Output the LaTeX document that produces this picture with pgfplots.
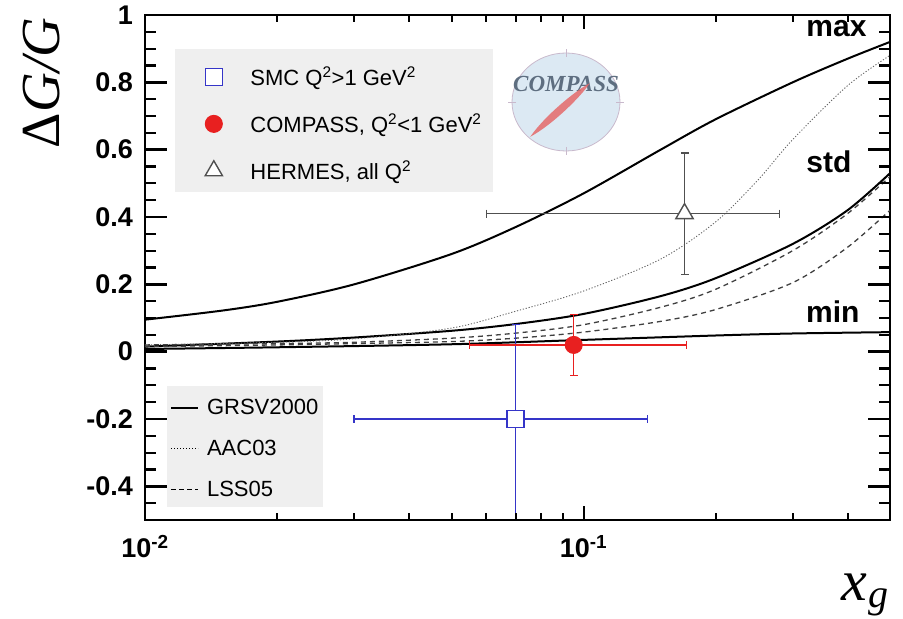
\documentclass[border=0pt]{standalone}
\usepackage{pgfplots}
\pgfplotsset{compat=1.18}
\usetikzlibrary{calc}
\usepackage{fontspec}
\setmainfont{Liberation Sans}
\newfontfamily\serif{Liberation Serif}
\definecolor{smcblue}{HTML}{3535C8}
\definecolor{cred}{HTML}{E82020}
\definecolor{hgray}{HTML}{505050}
\definecolor{leggray}{HTML}{EFEFEF}
\definecolor{logoblue}{HTML}{DCE9F3}
\definecolor{logoedge}{HTML}{C9B9CC}
\definecolor{logored}{HTML}{E56A6A}
\definecolor{logotext}{HTML}{5E6E80}
\begin{document}
\begin{tikzpicture}
% legend boxes
\fill[leggray] (30pt,328pt) rectangle (348pt,471pt);
\fill[leggray] (22pt,13pt) rectangle (178pt,134pt);
% logo
\fill[logoblue] (421pt,418pt) ellipse (54pt and 49pt);
\draw[logoedge, line width=0.8pt] (421pt,418pt) ellipse (54pt and 49pt);
\foreach \a in {0,90,180,270}{\draw[logoedge, line width=0.8pt] ($(421pt,418pt)+(\a:50pt and 45pt)$) -- ($(421pt,418pt)+(\a:58pt and 53pt)$);}
\node[logotext, font=\serif\bfseries\itshape\fontsize{23}{23}\selectfont] at (421pt,436pt) {COMPASS};
\fill[logored, opacity=0.85, rotate around={42:(415pt,410pt)}] (375pt,410pt) .. controls (400pt,416pt) and (440pt,414pt) .. (455pt,410pt) .. controls (440pt,406pt) and (400pt,404pt) .. cycle;

\begin{axis}[
  at={(0pt,0pt)}, anchor=south west,
  scale only axis, width=745pt, height=505pt,
  xmode=log, xmin=0.01, xmax=0.5, ymin=-0.5, ymax=1,
  axis line style={line width=2.2pt},
  xtick={0.01,0.1}, xticklabels={10\textsuperscript{-2},10\textsuperscript{-1}},
  ytick={-0.4,-0.2,0,0.2,0.4,0.6,0.8,1},
  yticklabels={-0.4,-0.2,0,0.2,0.4,0.6,0.8,1},
  major tick length=0pt, minor tick length=0pt,
  yticklabel style={font=\bfseries\fontsize{27}{27}\selectfont, anchor=east, inner sep=0pt, xshift=-12pt},
  xticklabel style={font=\bfseries\fontsize{27}{27}\selectfont, anchor=north, inner sep=0pt, yshift=-15pt},
  legend style={draw=none, fill=none, at={(axis description cs:0.0805,0.897)}, anchor=north west,
    font=\fontsize{22}{24}\selectfont, row sep=27pt, column sep=28pt, inner sep=0pt, nodes={inner sep=0pt}},
  legend cell align=left,
  legend image code/.code={\draw[#1] plot coordinates {(0pt,0pt)};},
]
% GRSV2000 max
\addplot[black, line width=2pt, smooth, forget plot] coordinates {
(0.01,0.095)(0.015,0.122)(0.02,0.148)(0.03,0.2)(0.05,0.29)(0.07,0.37)(0.1,0.47)(0.15,0.6)(0.2,0.69)(0.3,0.8)(0.4,0.87)(0.5,0.92)};
% GRSV2000 std
\addplot[black, line width=2pt, smooth, forget plot] coordinates {
(0.01,0.015)(0.02,0.03)(0.03,0.042)(0.05,0.062)(0.07,0.082)(0.1,0.112)(0.15,0.165)(0.2,0.218)(0.3,0.32)(0.4,0.42)(0.5,0.53)};
% GRSV2000 min
\addplot[black, line width=2pt, smooth, forget plot] coordinates {
(0.01,0.008)(0.02,0.013)(0.05,0.022)(0.1,0.035)(0.2,0.048)(0.3,0.054)(0.5,0.058)};
% AAC03
\addplot[black!60, line width=0.9pt, dash pattern=on 1.2pt off 1.8pt, smooth, forget plot] coordinates {
(0.01,0.02)(0.02,0.028)(0.03,0.038)(0.05,0.07)(0.07,0.12)(0.1,0.18)(0.15,0.275)(0.2,0.385)(0.25,0.51)(0.3,0.63)(0.4,0.79)(0.5,0.88)};
% LSS05 upper
\addplot[black!75, line width=1.3pt, dash pattern=on 5pt off 4pt, smooth, forget plot] coordinates {
(0.01,0.02)(0.02,0.024)(0.03,0.028)(0.05,0.04)(0.07,0.055)(0.1,0.08)(0.15,0.132)(0.2,0.185)(0.3,0.3)(0.4,0.41)(0.5,0.52)};
% LSS05 lower
\addplot[black!75, line width=1.3pt, dash pattern=on 5pt off 4pt, smooth, forget plot] coordinates {
(0.01,0.015)(0.02,0.02)(0.03,0.024)(0.05,0.03)(0.07,0.04)(0.1,0.058)(0.15,0.09)(0.2,0.125)(0.3,0.205)(0.4,0.31)(0.5,0.42)};
% error bars
\addplot[smcblue, line width=1.5pt, mark=|, mark size=4pt, forget plot] coordinates {(0.03,-0.2)(0.14,-0.2)};
\addplot[smcblue, line width=1.5pt, forget plot] coordinates {(0.07,-0.5)(0.07,0.08)};
\addplot[smcblue, line width=1.5pt, only marks, mark=-, mark size=4pt, forget plot] coordinates {(0.07,0.08)};
\addplot[cred, line width=1.3pt, mark=|, mark size=4pt, forget plot] coordinates {(0.055,0.02)(0.172,0.02)};
\addplot[cred, line width=1.3pt, mark=-, mark size=4pt, forget plot] coordinates {(0.095,-0.07)(0.095,0.11)};
\addplot[hgray, line width=1.4pt, mark=|, mark size=4pt, forget plot] coordinates {(0.06,0.41)(0.28,0.41)};
\addplot[hgray, line width=1.4pt, mark=-, mark size=4pt, forget plot] coordinates {(0.17,0.23)(0.17,0.59)};
% data markers
\addplot[smcblue, line width=1.5pt, mark=square*, mark size=8.5pt, mark options={fill=white}] coordinates {(0.07,-0.2)};
\addlegendentry{SMC Q\textsuperscript{2}>1 GeV\textsuperscript{2}}
\addplot[cred, line width=1pt, mark=*, mark size=8.5pt, mark options={fill=cred}] coordinates {(0.095,0.02)};
\addlegendentry{COMPASS, Q\textsuperscript{2}<1 GeV\textsuperscript{2}}
\addplot[hgray, line width=1.4pt, mark=triangle*, mark size=10pt, mark options={fill=white}] coordinates {(0.17,0.41)};
\addlegendentry{HERMES, all Q\textsuperscript{2}}
\end{axis}

\begin{axis}[
  at={(0pt,0pt)}, anchor=south west,
  scale only axis, width=745pt, height=505pt,
  hide axis, xmin=0, xmax=1, ymin=0, ymax=1,
  legend style={draw=none, fill=none, at={(axis description cs:0.0336,0.2396)}, anchor=north west,
    font=\fontsize{22}{24}\selectfont, row sep=24pt, column sep=8pt, inner sep=0pt, nodes={inner sep=0pt}},
  legend cell align=left,
  legend image code/.code={\draw[#1] (0pt,0pt) -- (27pt,0pt);},
]
\addlegendimage{black, line width=1.8pt}
\addlegendentry{GRSV2000}
\addlegendimage{black, line width=0.9pt, dash pattern=on 1.2pt off 1.8pt}
\addlegendentry{AAC03}
\addlegendimage{black, line width=1.2pt, dash pattern=on 5pt off 3pt}
\addlegendentry{LSS05}
\end{axis}

% axis ticks, drawn last (axis box is 745pt x 505pt at the origin)
\foreach \yy in {33.67,101,168.33,235.67,303,370.33,437.67}{
  \draw[black, line width=2.4pt] (0pt,\yy pt) -- (22pt,\yy pt);
  \draw[black, line width=2.4pt] (745pt,\yy pt) -- (723pt,\yy pt);
}
\foreach \yy in {16.83,50.5,67.33,84.17,117.83,134.67,151.5,185.17,202,218.83,252.5,269.33,286.17,319.83,336.67,353.5,387.17,404,420.83,454.5,471.33,488.17}{
  \draw[black, line width=2.2pt] (0pt,\yy pt) -- (11pt,\yy pt);
  \draw[black, line width=2.2pt] (745pt,\yy pt) -- (734pt,\yy pt);
}
\draw[black, line width=2pt] (438.5pt,0pt) -- (438.5pt,14pt);
\draw[black, line width=2pt] (438.5pt,505pt) -- (438.5pt,491pt);
\foreach \xx in {132,209.2,264,306.5,341.2,370.6,396,418.4,570.5,647.7,702.5}{
  \draw[black, line width=2pt] (\xx pt,0pt) -- (\xx pt,7pt);
  \draw[black, line width=2pt] (\xx pt,505pt) -- (\xx pt,498pt);
}

\node[anchor=base east, font=\bfseries\fontsize{30}{30}\selectfont] at (725pt,483pt) {max};
\node[anchor=base east, font=\bfseries\fontsize{30}{30}\selectfont] at (710pt,347pt) {std};
\node[anchor=base east, font=\bfseries\fontsize{30}{30}\selectfont] at (718pt,197pt) {min};
\node[rotate=90, font=\serif\fontsize{55}{55}\selectfont] at (-103pt,437pt) {Δ\textit{G/G}};
\node[anchor=base west, font=\serif\itshape\fontsize{58}{58}\selectfont] at (693pt,-80pt) {x\kern1pt{\fontsize{40}{40}\selectfont\raisebox{-7pt}{g}}};
\path (-145pt,-96pt) rectangle (758pt,520pt);
\end{tikzpicture}
\end{document}
